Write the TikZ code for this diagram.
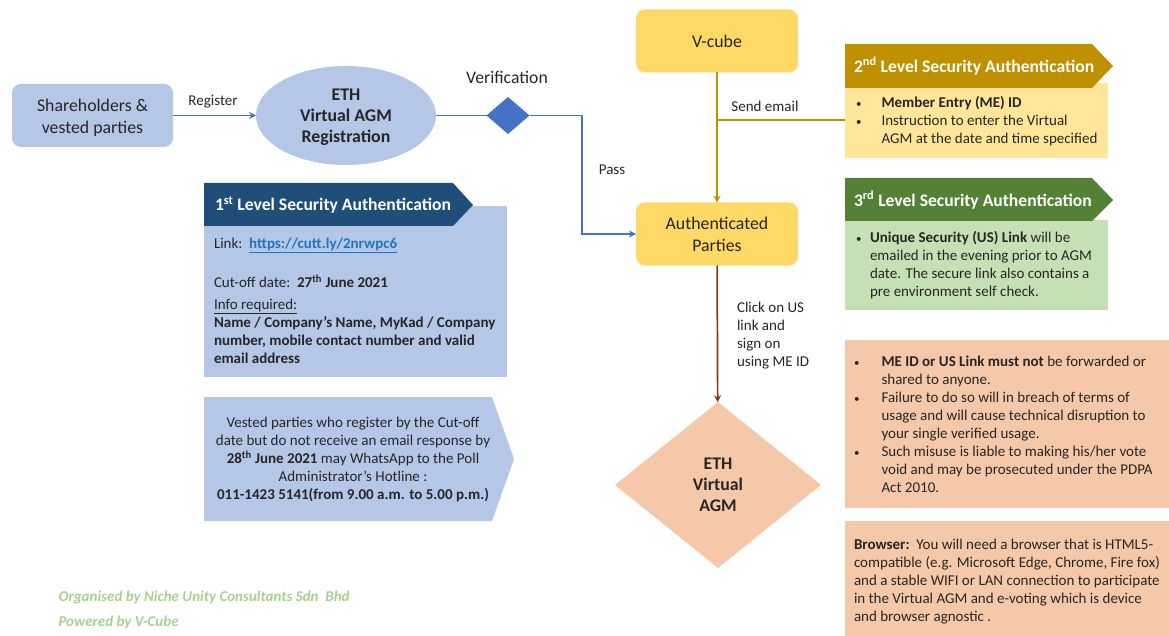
\documentclass[tikz,border=0pt]{standalone}
\usepackage{fontspec}
\setmainfont{Carlito}
\usetikzlibrary{arrows.meta,shapes.geometric}
\definecolor{ink}{HTML}{262626}
\definecolor{paleblue}{HTML}{B4C7E7}
\definecolor{midblue}{HTML}{4472C4}
\definecolor{darkblue}{HTML}{1F4E79}
\definecolor{gold}{HTML}{BF9000}
\definecolor{yellowbox}{HTML}{FFD966}
\definecolor{paleyellow}{HTML}{FFE699}
\definecolor{darkgreen}{HTML}{548235}
\definecolor{palegreen}{HTML}{C5E0B4}
\definecolor{peach}{HTML}{F6C8AA}
\definecolor{brownline}{HTML}{843C0C}
\definecolor{footgreen}{HTML}{A9D18E}
\definecolor{linkblue}{HTML}{1F75C0}
\newcommand\fs[2]{\fontsize{#1}{#2}\selectfont}
\newcommand\bl[1]{\makebox[#1][l]{\fs{11}{18}•}}
\newcommand\ind[1]{\hspace*{#1}}
\tikzset{
  x=1pt,y=-1pt,
  every node/.style={text=ink,inner sep=0pt,outer sep=0pt},
  roundbox/.style={rounded corners=9pt,minimum width=162pt,minimum height=63pt,align=center,font=\fs{17.8}{22}},
  bodybox/.style={anchor=north west},
  txt/.style={font=\fs{15}{18},align=left,anchor=west},
  lbl/.style={font=\fs{15}{18}},
  hdrtxt/.style={font=\fs{17.6}{20}\bfseries,text=white,anchor=west},
  flow/.style={line width=1.7pt,-{Stealth[length=7pt,width=7pt]}},
  foot/.style={font=\fs{15}{18}\bfseries\itshape,text=footgreen,anchor=west},
}
\begin{document}
\begin{tikzpicture}
\useasboundingbox (0,0) rectangle (1169,636);

% left flow
\node[roundbox,fill=paleblue,minimum width=161pt] (share) at (92.5,115.5) {\rule{0pt}{16pt}Shareholders \&\\vested parties};
\node[ellipse,fill=paleblue,minimum width=180pt,minimum height=99pt,align=center,font=\fs{17.8}{21}\bfseries] (reg) at (346,115.5) {\rule{0pt}{15.5pt}ETH\\Virtual AGM\\Registration};
\node[diamond,fill=midblue,minimum width=43pt,minimum height=37pt] (check) at (508,115.5) {};
\node[lbl] (reglbl) at (213,102) {Register};
\node[font=\fs{17.7}{20}] (verif) at (507,77.5) {Verification};
\node[lbl] (pass) at (612,170) {Pass};

% right flow
\node[roundbox,fill=yellowbox] (vcube) at (717,41) {V-cube};
\node[roundbox,fill=yellowbox] (auth) at (717,234) {Authenticated\\Parties};
\node[diamond,fill=peach,minimum width=206pt,minimum height=166pt,align=center,font=\fs{17.8}{21}\bfseries] (agm) at (718,485) {ETH\\Virtual\\AGM};
\node[lbl] (send) at (765,106) {Send email};
\node[txt] (click) at (737,335.5) {Click on US\\link and\\sign on\\using ME ID};

% 2nd level
\node[bodybox,fill=paleyellow,minimum width=263pt,minimum height=75pt] (body2) at (845,83) {};
\fill[gold] (845,44) -- (1092,44) -- (1113,66) -- (1092,88) -- (845,88) -- cycle;
\node[hdrtxt] (h2) at (854,66) {2\textsuperscript{nd} Level Security Authentication};
\node[txt] (t2) at (856,121) {\bl{25.5pt}\textbf{Member Entry (ME) ID}\\\bl{25.5pt}Instruction to enter the Virtual\\\ind{25.5pt}AGM at the date and time specified};

% 3rd level
\node[bodybox,fill=palegreen,minimum width=263pt,minimum height=90pt] (body3) at (845,220) {};
\fill[darkgreen] (845,178) -- (1092,178) -- (1113,200) -- (1092,221) -- (845,221) -- cycle;
\node[hdrtxt] (h3) at (854,200) {3\textsuperscript{rd} Level Security Authentication};
\node[txt] (t3) at (856,265) {\bl{14pt}\textbf{Unique Security (US) Link} will be\\\ind{14pt}emailed in the evening prior to AGM\\\ind{14pt}date. The secure link also contains a\\\ind{14pt}pre environment self check.};

% 1st level
\node[bodybox,fill=paleblue,minimum width=303pt,minimum height=171pt] (body1) at (204,206) {};
\fill[darkblue] (204,183) -- (453,183) -- (473,205) -- (453,226) -- (204,226) -- cycle;
\node[hdrtxt] (h1) at (215,205) {1\textsuperscript{st} Level Security Authentication};
\node[txt] (link) at (214,245) {Link:\ \ \textcolor{linkblue}{\textbf{\underline{https://cutt.ly/2nrwpc6}}}};
\node[txt] (cut) at (214,281) {Cut-off date:\ \ \textbf{27\textsuperscript{th} June 2021}};
\node[txt] (info) at (214,331) {\underline{Info required:}\\\textbf{Name / Company’s Name, MyKad / Company}\\\textbf{number, mobile contact number and valid}\\\textbf{email address}};

% note pentagon
\fill[paleblue] (204,397) -- (492,397) -- (514,459) -- (492,521) -- (204,521) -- cycle;
\node[font=\fs{15}{18},align=center] (note) at (353,459.5) {Vested parties who register by the Cut-off\\date but do not receive an email response by\\\textbf{28\textsuperscript{th} June 2021} may WhatsApp to the Poll\\Administrator’s Hotline :\\\textbf{011-1423 5141(from 9.00 a.m. to 5.00 p.m.)}};

% peach notes
\node[bodybox,fill=peach,minimum width=324pt,minimum height=168pt] (warn) at (845,340) {};
\node[txt] (warntxt) at (854,424) {\bl{27.5pt}\textbf{ME ID or US Link must not} be forwarded or\\\ind{27.5pt}shared to anyone.\\\bl{27.5pt}Failure to do so will in breach of terms of\\\ind{27.5pt}usage and will cause technical disruption to\\\ind{27.5pt}your single verified usage.\\\bl{27.5pt}Such misuse is liable to making his/her vote\\\ind{27.5pt}void and may be prosecuted under the PDPA\\\ind{27.5pt}Act 2010.};
\node[bodybox,fill=peach,minimum width=324pt,minimum height=115pt] (browser) at (845,521) {};
\node[txt] (browsertxt) at (854,582) {\textbf{Browser:}\ \ You will need a browser that is HTML5-\\compatible (e.g. Microsoft Edge, Chrome, Fire fox)\\and a stable WIFI or LAN connection to participate\\in the Virtual AGM and e-voting which is device\\and browser agnostic .};

% footer
\node[foot] (org) at (58.5,597) {Organised by Niche Unity Consultants Sdn\ \ Bhd};
\node[foot] (pow) at (58.5,622) {Powered by V-Cube};

% connectors
\draw[flow,draw=midblue] (share) -- (reg);
\draw[line width=1.7pt,draw=midblue] (reg) -- (check);
\coordinate (bend) at (582,115.5);
\draw[flow,draw=midblue] (check) -- (bend) |- (auth);
\draw[flow,draw=gold] (vcube) -- (auth);
\coordinate (junction) at (717,120);
\draw[line width=1.7pt,draw=gold] (junction) -- (junction -| body2.west);
\draw[flow,draw=brownline] (auth) -- (agm);
\end{tikzpicture}
\end{document}
